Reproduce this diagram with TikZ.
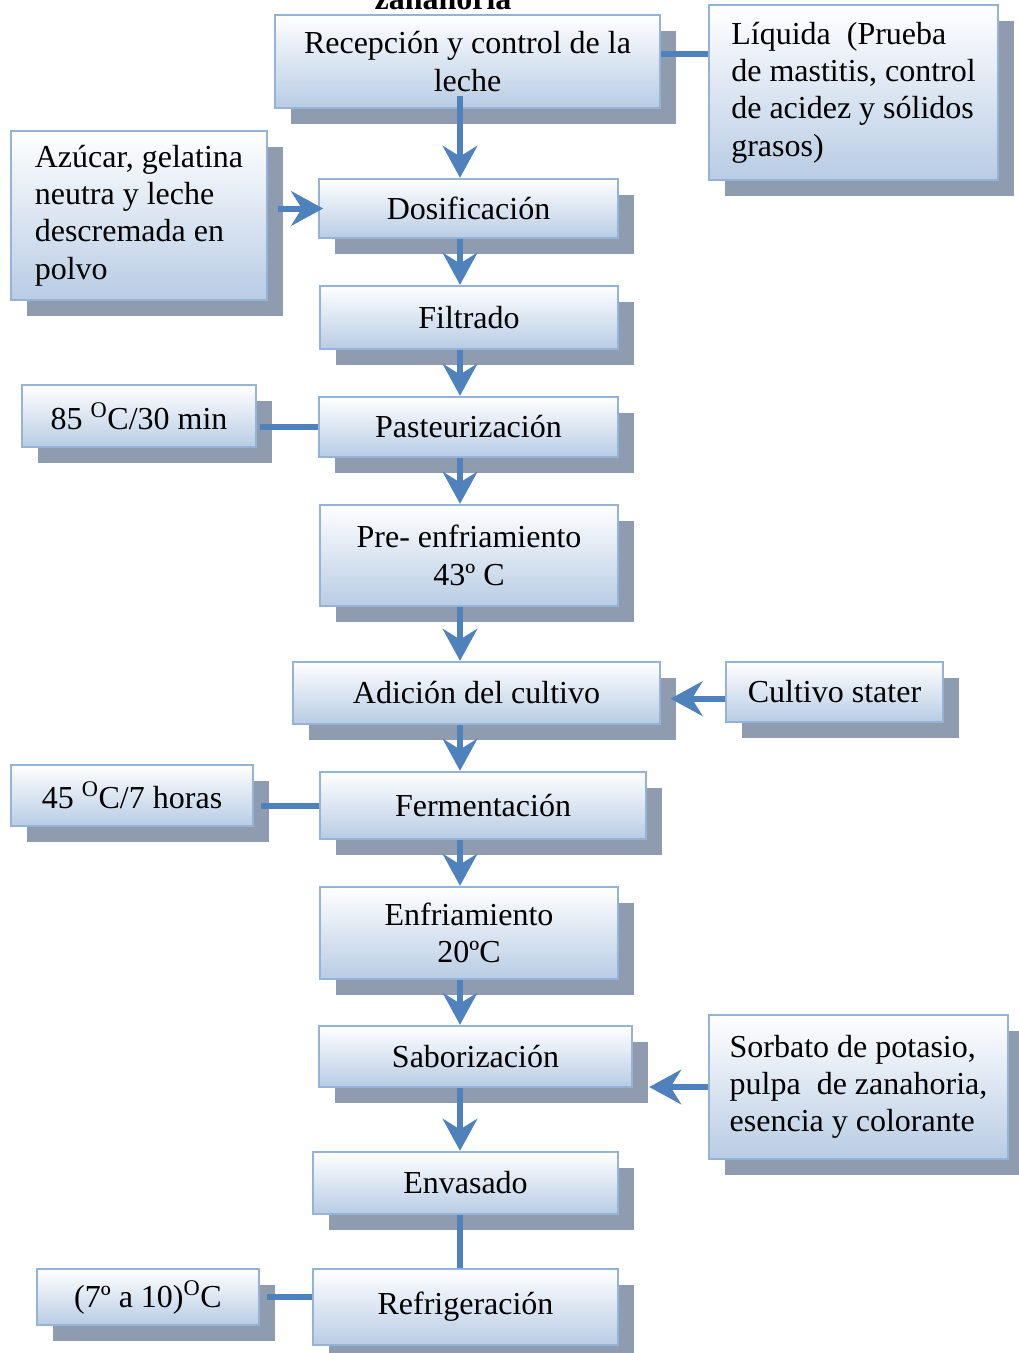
\documentclass[tikz,border=0pt]{standalone}
\usepackage{fontspec}
\setmainfont{Liberation Serif}
\usetikzlibrary{arrows.meta,shadows}
\definecolor{boxedge}{RGB}{149,179,215}
\definecolor{boxfill}{RGB}{184,204,228}
\definecolor{shadowgray}{RGB}{143,155,175}
\definecolor{flowblue}{RGB}{79,129,189}
\tikzset{
proc/.style={draw=boxedge, line width=1.8pt, top color=white, bottom color=boxfill,
  drop shadow={shadow xshift=12pt, shadow yshift=-12pt, fill=shadowgray, opacity=1},
  font=\fontsize{24}{28}\selectfont, align=center, inner sep=0pt},
sz/.style 2 args={minimum width=#1*0.75pt, minimum height=#2*0.75pt},
flow/.style={draw=flowblue, line width=4.5pt, -{Stealth[length=24pt,width=26pt,inset=8pt]}},
link/.style={draw=flowblue, line width=4.5pt}}
\begin{document}
\begin{tikzpicture}[x=0.75pt,y=0.75pt,yscale=-1]
\useasboundingbox (0,0) rectangle (1018,1353);
\coordinate (axis) at (460,0);

% Title (cut at the top)
\node [font=\fontsize{24}{28}\selectfont\bfseries, anchor=base] (ttl) at (443,9) {zanahoria};

% Main column
\node [proc, sz={385}{93}] (rec) at (467.5,61.5) {Recepción y control de la\\leche};
\node [proc, sz={299}{59}] (dos) at (468.5,208.5) {Dosificación};
\node [proc, sz={298}{63}] (fil) at (469,317.5) {Filtrado};
\node [proc, sz={299}{60}] (pas) at (468.5,427) {Pasteurización};
\node [proc, sz={298}{101}] (pre) at (469,555.5) {Pre- enfriamiento\\43º C};
\node [proc, sz={367}{62}] (adi) at (476.5,693) {Adición del cultivo};
\node [proc, sz={326}{67}] (fer) at (483,805.5) {Fermentación};
\node [proc, sz={298}{92}] (enf) at (469,933) {Enfriamiento\\20ºC};
\node [proc, sz={313}{61}] (sab) at (475.5,1056.5) {Saborización};
\node [proc, sz={305}{62}] (env) at (465.5,1183) {Envasado};
\node [proc, sz={305}{76}] (ref) at (465.5,1307) {Refrigeración};

% Side boxes
\node [proc, sz={289}{175}, align=left] (liq) at (853.5,92.5) {Líquida~ (Prueba\\de mastitis, control\\de acidez y sólidos\\grasos)};
\node [proc, sz={256}{169}, align=left] (azu) at (139,215.5) {Azúcar, gelatina\\neutra y leche\\descremada en\\polvo};
\node [proc, sz={234}{62}] (t85) at (139,416) {85 \textsuperscript{O}C/30 min};
\node [proc, sz={217}{60}] (cul) at (834.5,692) {Cultivo stater};
\node [proc, sz={242}{61}] (t45) at (132,795.5) {45 \textsuperscript{O}C/7 horas};
\node [proc, sz={299}{144}, align=left] (sor) at (858.5,1087) {Sorbato de potasio,\\pulpa~ de zanahoria,\\esencia y colorante};
\node [proc, sz={222}{56}] (t7) at (148,1297) {(7º a 10)\textsuperscript{O}C};

% Flow arrows
\draw [flow] ([yshift=-10pt]rec.south -| axis) -- (dos.north -| axis);
\draw [flow] (dos.south -| axis) -- (fil.north -| axis);
\draw [flow] (fil.south -| axis) -- (pas.north -| axis);
\draw [flow] (pas.south -| axis) -- (pre.north -| axis);
\draw [flow] (pre.south -| axis) -- (adi.north -| axis);
\draw [flow] (adi.south -| axis) -- (fer.north -| axis);
\draw [flow] (fer.south -| axis) -- (enf.north -| axis);
\draw [flow] (enf.south -| axis) -- (sab.north -| axis);
\draw [flow] (sab.south -| axis) -- (env.north -| axis);
\draw [link] (env.south -| axis) -- (ref.north -| axis);

% Inputs
\draw [link] ([yshift=-6pt]rec.east) -- ([yshift=-6pt]rec.east -| liq.west);
\draw [flow] ([xshift=7pt]azu.east |- dos.west) -- ([xshift=4pt]dos.west);
\draw [link] ([xshift=2pt]t85.east |- pas.west) -- (pas.west);
\draw [flow] ([yshift=5pt]cul.west) -- ([xshift=7pt,yshift=5pt]cul.west -| adi.east);
\draw [link] ([xshift=5pt]t45.east |- fer.west) -- (fer.west);
\draw [flow] (sor.west) -- ([xshift=12pt]sor.west -| sab.east);
\draw [link] ([xshift=5pt]t7.east) -- (t7.east -| ref.west);

\end{tikzpicture}
\end{document}
